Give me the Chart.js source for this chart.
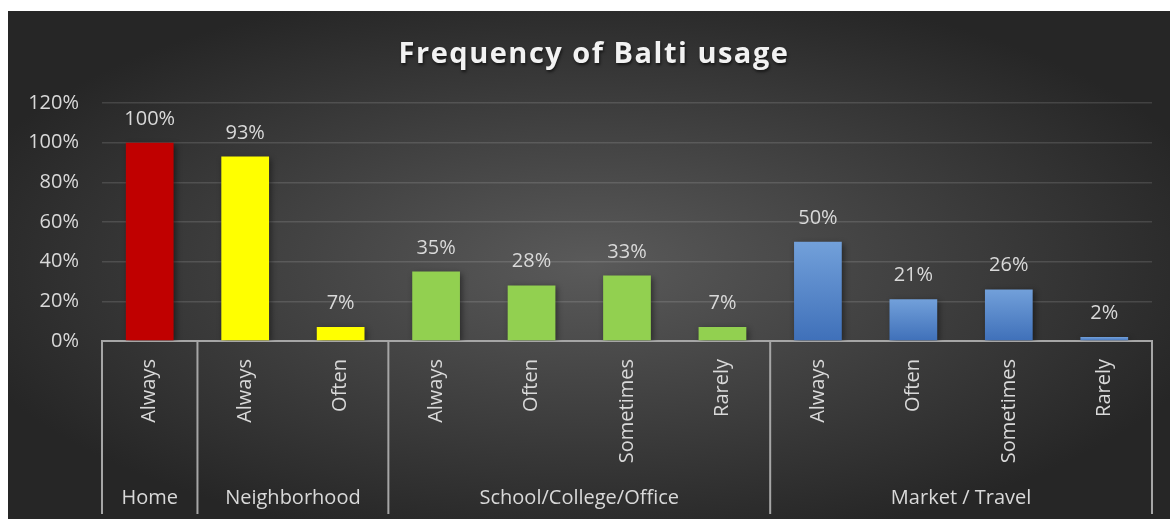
<!DOCTYPE html>
<html>
<head>
<meta charset="utf-8">
<title>Frequency of Balti usage</title>
<script src="https://cdn.jsdelivr.net/npm/chart.js@4.4.0/dist/chart.umd.min.js"></script>
<style>
  html, body { margin: 0; padding: 0; background: #fff; }
  #wrap {
    position: absolute; left: 8px; top: 11px; width: 1162px; height: 508px;
    background: radial-gradient(ellipse farthest-corner at 50% 50%, #5a5a5a 0%, #262626 80%);
  }
</style>
</head>
<body>
<div id="wrap"><canvas id="chart"></canvas></div>
<script>
const chartTitle = "Frequency of Balti usage";
const barGroups = ["Home", "Neighborhood", "Neighborhood",
    "School/College/Office", "School/College/Office", "School/College/Office", "School/College/Office",
    "Market / Travel", "Market / Travel", "Market / Travel", "Market / Travel"];
const frequencyLabels = ["Always", "Always", "Often", "Always", "Often", "Sometimes", "Rarely",
    "Always", "Often", "Sometimes", "Rarely"];
const usagePercent = [100, 93, 7, 35, 28, 33, 7, 50, 21, 26, 2];

const groupColors = {
    "Home": "#c00000",
    "Neighborhood": "#ffff00",
    "School/College/Office": "#92d050"
};

Chart.defaults.font.family = '"Open Sans", sans-serif';
Chart.defaults.color = "#d9d9d9";

function barColor(c) {
    const group = barGroups[c.dataIndex];
    if (groupColors[group]) return groupColors[group];
    // blue bars have a light-to-dark gradient per bar
    const y = c.chart.scales.y;
    if (!y || y.top === undefined) return "#4a7bc4";
    const top = y.getPixelForValue(usagePercent[c.dataIndex]);
    const bottom = y.getPixelForValue(0);
    const grad = c.chart.ctx.createLinearGradient(0, top, 0, bottom);
    grad.addColorStop(0, "#72a0da");
    grad.addColorStop(1, "#3f70b9");
    return grad;
}

const decorations = {
    id: "decorations",
    beforeDatasetsDraw(chart) {
        const ctx = chart.ctx;
        ctx.save();
        ctx.shadowColor = "rgba(0,0,0,0.45)";
        ctx.shadowBlur = 6;
        ctx.shadowOffsetX = 2;
        ctx.shadowOffsetY = 2;
    },
    afterDatasetsDraw(chart) {
        const ctx = chart.ctx;
        ctx.restore();
        const meta = chart.getDatasetMeta(0);
        ctx.save();
        ctx.font = '20px "Open Sans", sans-serif';
        ctx.fillStyle = "#d9d9d9";
        ctx.textAlign = "center";
        ctx.textBaseline = "alphabetic";
        meta.data.forEach((bar, i) => {
            ctx.fillText(usagePercent[i] + "%", bar.x, bar.y - 18);
        });
        ctx.restore();
    },
    afterDraw(chart) {
        const ctx = chart.ctx;
        const x = chart.scales.x;
        const half = (x.getPixelForValue(1) - x.getPixelForValue(0)) / 2;

        ctx.save();
        ctx.strokeStyle = "#a6a6a6";
        ctx.lineWidth = 2;
        ctx.font = '20px "Open Sans", sans-serif';
        ctx.fillStyle = "#d9d9d9";
        ctx.textAlign = "center";
        ctx.textBaseline = "middle";

        let start = 0;
        const edges = [];
        for (let i = 1; i <= barGroups.length; i++) {
            if (i === barGroups.length || barGroups[i] !== barGroups[start]) {
                const left = x.getPixelForValue(start) - half;
                const right = x.getPixelForValue(i - 1) + half;
                if (start === 0) edges.push(left);
                edges.push(right);
                ctx.fillText(barGroups[start], (left + right) / 2, x.bottom - 16);
                start = i;
            }
        }
        edges.forEach(px => {
            ctx.beginPath();
            ctx.moveTo(px, x.top);
            ctx.lineTo(px, x.bottom);
            ctx.stroke();
        });

        // title
        ctx.font = 'bold 29px "Open Sans", sans-serif';
        ctx.letterSpacing = "1.5px";
        ctx.fillStyle = "#f2f2f2";
        ctx.textBaseline = "alphabetic";
        ctx.shadowColor = "rgba(0,0,0,0.6)";
        ctx.shadowBlur = 3;
        ctx.shadowOffsetX = 1;
        ctx.shadowOffsetY = 2;
        ctx.fillText(chartTitle, chart.width / 2 + 5, 52);
        ctx.restore();
    }
};

new Chart(document.getElementById("chart"), {
    type: "bar",
    data: {
        labels: frequencyLabels,
        datasets: [{
            data: usagePercent,
            backgroundColor: barColor,
            borderWidth: 0,
            categoryPercentage: 1,
            barPercentage: 0.5
        }]
    },
    options: {
        responsive: true,
        maintainAspectRatio: false,
        animation: false,
        layout: { padding: { top: 92, right: 18, bottom: 5, left: 0 } },
        plugins: {
            legend: { display: false },
            tooltip: { enabled: false },
            title: { display: false }
        },
        scales: {
            x: {
                grid: { display: false },
                border: { display: true, color: "#a6a6a6", width: 2 },
                ticks: {
                    autoSkip: false,
                    minRotation: 90,
                    maxRotation: 90,
                    padding: 10,
                    color: "#d9d9d9",
                    font: { size: 20 }
                },
                afterFit(scale) { scale.height = 173; }
            },
            y: {
                min: 0,
                max: 120,
                grid: { color: "rgba(255,255,255,0.13)", lineWidth: 1.5, drawTicks: false },
                border: { display: false },
                ticks: {
                    stepSize: 20,
                    padding: 23,
                    color: "#d9d9d9",
                    font: { size: 20 },
                    callback: v => v + "%"
                },
                afterFit(scale) { scale.width = 94; }
            }
        }
    },
    plugins: [decorations]
});
</script>
</body>
</html>
